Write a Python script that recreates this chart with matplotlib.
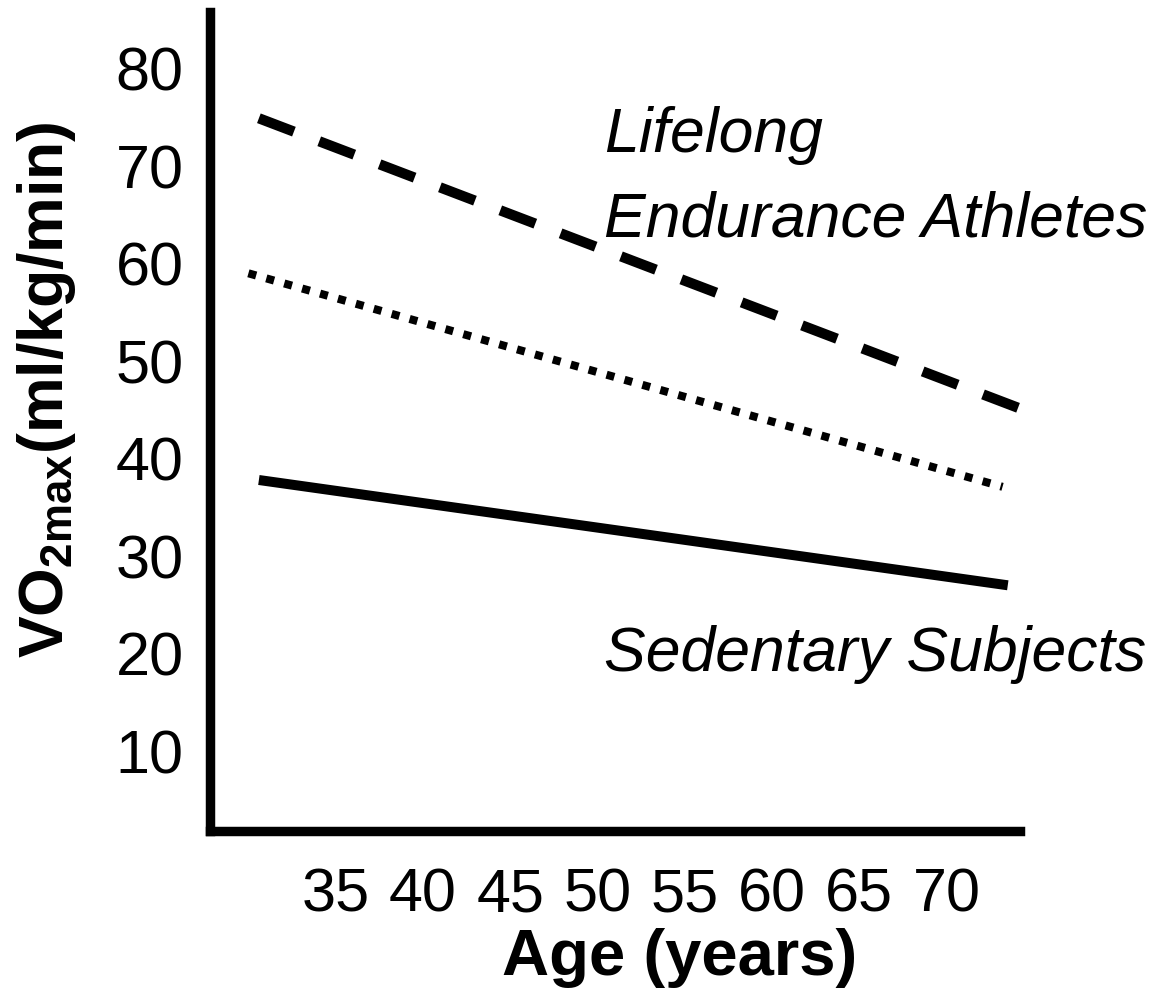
import matplotlib
matplotlib.use('Agg')
import matplotlib.pyplot as plt

# values
athletes_age = [30.6, 74.1]
athletes_vo2 = [74.9, 45.2]

active_age = [30.0, 73.2]
active_vo2 = [59.0, 37.1]

sedentary_age = [30.6, 73.5]
sedentary_vo2 = [37.8, 27.0]

x_ticks = [35, 40, 45, 50, 55, 60, 65, 70]
y_ticks = [10, 20, 30, 40, 50, 60, 70, 80]


def main():
    plt.rcParams['font.family'] = ['Liberation Sans', 'DejaVu Sans']
    plt.rcParams['mathtext.fontset'] = 'custom'
    plt.rcParams['mathtext.rm'] = 'Liberation Sans'
    plt.rcParams['mathtext.bf'] = 'Liberation Sans:bold'
    plt.rcParams['lines.scale_dashes'] = False

    fig = plt.figure(figsize=(11.53, 10.01), dpi=100)
    W, H = 1153.0, 1001.0
    ax = fig.add_axes([210 / W, 1 - 831 / H, 810 / W, 819 / H])

    # dashed line for the athletes, dotted in the middle, solid for sedentary
    ax.plot(athletes_age, athletes_vo2, color='black', lw=7.4,
            linestyle=(0, (27, 19.5)), dash_capstyle='butt')
    ax.plot(active_age, active_vo2, color='black', lw=5.8,
            linestyle=(0, (5.8, 7.6)), dash_capstyle='butt')
    ax.plot(sedentary_age, sedentary_vo2, color='black', lw=7.2,
            solid_capstyle='butt')

    ax.set_xlim(27.8, 74.2)
    ax.set_ylim(1.8, 85.8)
    ax.set_xticks(x_ticks)
    ax.set_yticks(y_ticks)
    ax.tick_params(axis='both', length=0, labelsize=44)
    ax.tick_params(axis='x', pad=26)
    ax.tick_params(axis='y', pad=19)

    for side in ['top', 'right']:
        ax.spines[side].set_visible(False)
    for side in ['left', 'bottom']:
        ax.spines[side].set_linewidth(6.8)
        ax.spines[side].set_capstyle('projecting')

    ax.text(0.487, 0.829, 'Lifelong', transform=ax.transAxes,
            fontsize=45, style='italic', va='baseline', ha='left')
    ax.text(0.487, 0.726, 'Endurance Athletes', transform=ax.transAxes,
            fontsize=45, style='italic', va='baseline', ha='left')
    ax.text(0.487, 0.195, 'Sedentary Subjects', transform=ax.transAxes,
            fontsize=45, style='italic', va='baseline', ha='left')

    fig.text(680 / W, 1 - 958 / H, 'Age (years)', fontsize=47,
             fontweight='bold', ha='center', va='center')
    fig.text(47 / W, 1 - 390 / H, r'$\mathbf{VO_{2max}(ml/kg/min)}$',
             fontsize=45, rotation=90, ha='center', va='center')

    fig.savefig('out.png', dpi=100, facecolor='white')


if __name__ == '__main__':
    main()
